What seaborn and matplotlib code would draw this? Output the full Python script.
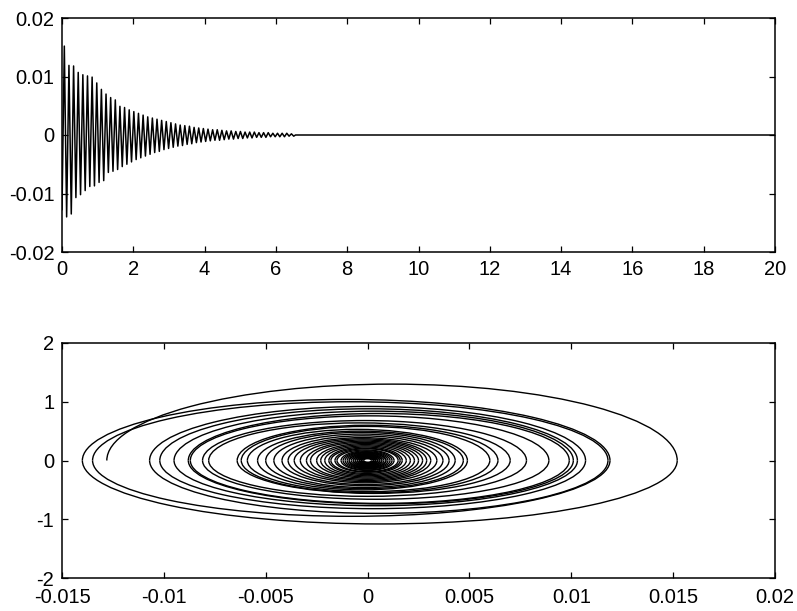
import matplotlib
matplotlib.use("Agg")
import matplotlib.pyplot as plt
from matplotlib.patches import Arc
import numpy as np
import pandas as pd
import seaborn as sns

# ---- data ----
half_period = 0.065  # time between successive extremes (s)

# positive displacement peaks (one per cycle)
right_peaks = [0.0152, 0.0119, 0.0118, 0.0107, 0.0103, 0.0101, 0.0099, 0.0089, 0.0078, 0.0070,
               0.0064, 0.0060, 0.0049, 0.0047, 0.0043, 0.0040, 0.0037, 0.0034, 0.0031, 0.0029,
               0.0027, 0.0025, 0.0023, 0.0021, 0.0019, 0.0017, 0.0016, 0.0015, 0.0013, 0.0012,
               0.0011, 0.0010, 0.0009, 0.0009, 0.0008, 0.0007, 0.0007, 0.0006, 0.0006, 0.0005,
               0.0005, 0.0005, 0.0004, 0.0004, 0.0004, 0.0003, 0.0003, 0.0003, 0.0003, 0.0002]

# negative displacement peaks (one per cycle, plus the last one)
left_peaks = [-0.0128, -0.0140, -0.0135, -0.0107, -0.0102, -0.0095, -0.0088, -0.0087, -0.0081, -0.0078,
              -0.0064, -0.0062, -0.0059, -0.0054, -0.0050, -0.0046, -0.0042, -0.0039, -0.0036, -0.0033,
              -0.0030, -0.0028, -0.0025, -0.0023, -0.0021, -0.0019, -0.0018, -0.0016, -0.0015, -0.0013,
              -0.0012, -0.0011, -0.0010, -0.0009, -0.0009, -0.0008, -0.0007, -0.0007, -0.0006, -0.0006,
              -0.0005, -0.0005, -0.0004, -0.0004, -0.0004, -0.0003, -0.0003, -0.0003, -0.0003, -0.0002,
              -0.0002]

# peak velocity on each upper (rightward) half loop
vel_top = [1.30, 1.04, 1.00, 0.92, 0.88, 0.84, 0.80, 0.76, 0.68, 0.64,
           0.60, 0.58, 0.53, 0.50, 0.48, 0.45, 0.42, 0.39, 0.37, 0.35,
           0.33, 0.31, 0.29, 0.27, 0.25, 0.23, 0.21, 0.20, 0.18, 0.165,
           0.15, 0.14, 0.13, 0.12, 0.11, 0.10, 0.095, 0.088, 0.082, 0.075,
           0.07, 0.068, 0.056, 0.055, 0.054, 0.043, 0.042, 0.041, 0.04, 0.03]

# peak (negative) velocity on each lower (leftward) half loop
vel_bottom = [-1.08, -0.95, -0.90, -0.82, -0.77, -0.74, -0.73, -0.66, -0.61, -0.56,
              -0.55, -0.53, -0.50, -0.48, -0.46, -0.43, -0.41, -0.38, -0.36, -0.34,
              -0.32, -0.30, -0.28, -0.26, -0.24, -0.22, -0.20, -0.19, -0.17, -0.16,
              -0.145, -0.135, -0.125, -0.12, -0.11, -0.10, -0.095, -0.088, -0.082, -0.075,
              -0.07, -0.065, -0.06, -0.056, -0.05, -0.045, -0.043, -0.04, -0.036, -0.03]

# motion has stopped: flat tail
tail_time = [6.55, 20.0]
tail_disp = [0.0, 0.0]

top_xticks = [0, 2, 4, 6, 8, 10, 12, 14, 16, 18, 20]
top_yticks = [-0.02, -0.01, 0, 0.01, 0.02]
top_ylabels = ["-0.02", "-0.01", "0", "0.01", "0.02"]
bot_xticks = [-0.015, -0.01, -0.005, 0, 0.005, 0.01, 0.015, 0.02]
bot_xlabels = ["-0.015", "-0.01", "-0.005", "0", "0.005", "0.01", "0.015", "0.02"]
bot_yticks = [-2, -1, 0, 1, 2]

# ---- style ----
sns.set_theme(style="white")
plt.rcParams["font.family"] = ["Liberation Sans", "DejaVu Sans"]
plt.rcParams["axes.unicode_minus"] = False

fig = plt.figure(figsize=(7.97, 6.11), dpi=100)
W, H = 797, 611
ax1 = fig.add_axes([62 / W, (H - 252) / H, 713 / W, 234 / H])
ax2 = fig.add_axes([62 / W, (H - 578) / H, 713 / W, 235 / H])

# ---- top: displacement time history ----
disp = []
for k in range(len(right_peaks)):
    disp.append(left_peaks[k])
    disp.append(right_peaks[k])
disp.append(left_peaks[len(right_peaks)])
times = list(np.arange(len(disp)) * half_period)
df_top = pd.DataFrame({"t": times + tail_time, "x": disp + tail_disp})
sns.lineplot(data=df_top, x="t", y="x", sort=False, estimator=None,
             color="black", linewidth=1.1, ax=ax1)

ax1.set_xlim(0, 20)
ax1.set_ylim(-0.02, 0.02)
ax1.set_xticks(top_xticks)
ax1.set_xticklabels([str(v) for v in top_xticks])
ax1.set_yticks(top_yticks)
ax1.set_yticklabels(top_ylabels)

# ---- bottom: phase portrait (spiral of half-ellipses) ----
for k in range(len(right_peaks)):
    L, R, Ln = left_peaks[k], right_peaks[k], left_peaks[k + 1]
    ax2.add_patch(Arc(((L + R) / 2, 0), R - L, 2 * vel_top[k], theta1=0, theta2=180,
                      color="black", linewidth=1.0))
    ax2.add_patch(Arc(((R + Ln) / 2, 0), R - Ln, -2 * vel_bottom[k], theta1=180, theta2=360,
                      color="black", linewidth=1.0))

ax2.set_xlim(-0.015, 0.02)
ax2.set_ylim(-2, 2)
ax2.set_xticks(bot_xticks)
ax2.set_xticklabels(bot_xlabels)
ax2.set_yticks(bot_yticks)
ax2.set_yticklabels([str(v) for v in bot_yticks])

for ax in (ax1, ax2):
    ax.set_xlabel("")
    ax.set_ylabel("")
    for s in ax.spines.values():
        s.set_visible(True)
        s.set_color("black")
        s.set_linewidth(1.1)
    ax.tick_params(direction="in", length=4.5, width=0.9, colors="black",
                   bottom=True, left=True, top=True, right=True,
                   labelsize=14.5, pad=5.5)
ax1.tick_params(axis="x", pad=5.5)
ax2.tick_params(axis="x", pad=7.5)
for ax in (ax1, ax2):
    ax.grid(False)

fig.savefig("out.png", dpi=100)
